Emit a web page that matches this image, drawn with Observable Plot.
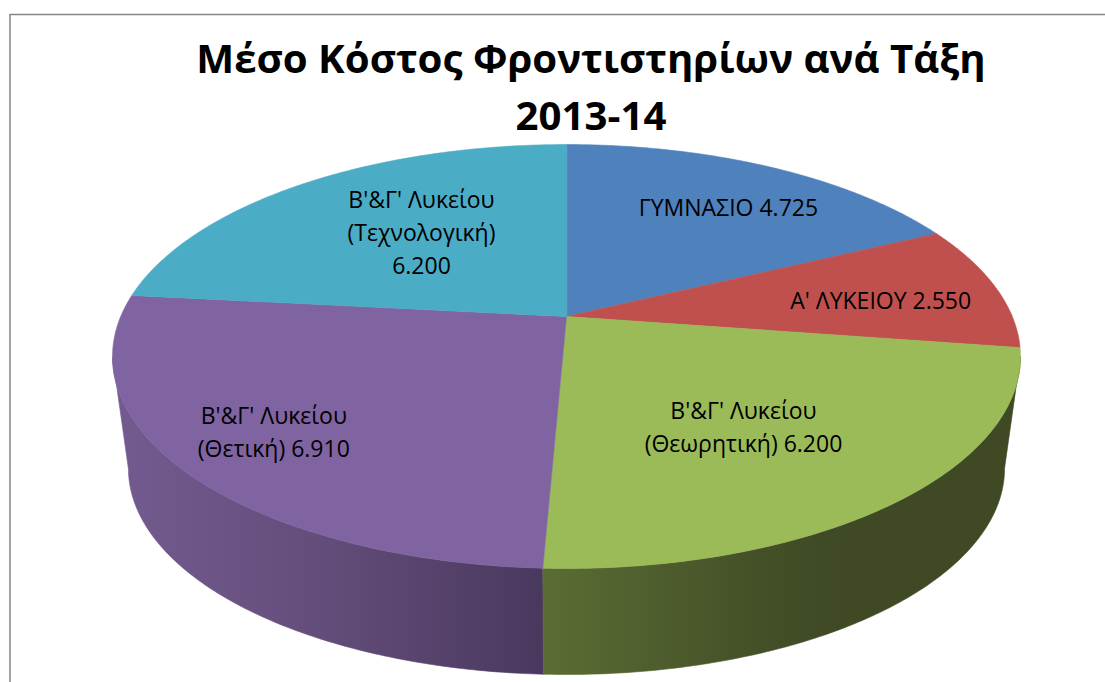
<!DOCTYPE html>
<html><head><meta charset="utf-8">
<script src="https://cdn.jsdelivr.net/npm/d3@7"></script>
<script src="https://cdn.jsdelivr.net/npm/@observablehq/plot@0.6"></script>
<style>html,body{margin:0;padding:0;background:#fff}svg{display:block}</style>
</head><body><div id="chart"></div>
<script>
const title = "Μέσο Κόστος Φροντιστηρίων ανά Τάξη\n2013-14";
const categories = ["ΓΥΜΝΑΣΙΟ ", "Α' ΛΥΚΕΙΟΥ ", "Β'&Γ' Λυκείου\n(Θεωρητική) ", "Β'&Γ' Λυκείου\n(Θετική) ", "Β'&Γ' Λυκείου\n(Τεχνολογική)\n"];
const values = [4725, 2550, 6200, 6910, 6200];
const valueLabels = ["4.725", "2.550", "6.200", "6.910", "6.200"];
const colors = ["#4F81BD", "#C0504D", "#9BBB59", "#8064A2", "#4BACC6"];
const labelRadius = [0.77, 0.728, 0.572, 0.783, 0.522];
const labelShiftY = [8, 4, 10, -2, -12];

// perspective projection of the pie disc
const cx = 566, apexY = 316, A = 445.8, B = 204.4, k = 0.1887;
const top3d = (deg, r = 1) => {
  const t = deg * Math.PI / 180, u = r * Math.sin(t), v = r * Math.cos(t), w = 1 + k * v;
  return {x: cx + A * u / w, y: apexY - B * v / w};
};
const bottom3d = (deg) => {
  const p = top3d(deg);
  return {x: cx + 0.965 * (p.x - cx), y: 468 + 0.972 * (p.y - 356)};
};
const total = d3.sum(values);
let run = 0;
const slices = values.map((v, i) => {
  const start = run / total * 360; run += v;
  return {i, start, end: run / total * 360};
});
const arc = (a, b, f) => d3.range(0, 121).map(j => f(a + (b - a) * j / 120));
const wedge = s => [{x: cx, y: apexY}, ...arc(s.start, s.end, top3d)];
const wall = (s) => {
  const a = Math.max(s.start, 100.9), b = Math.min(s.end, 259);
  return [...arc(a, b, top3d), ...arc(a, b, bottom3d).reverse()];
};
const labels = slices.map(s => {
  const p = top3d((s.start + s.end) / 2, labelRadius[s.i]);
  return {x: p.x, y: p.y + labelShiftY[s.i], text: categories[s.i] + valueLabels[s.i]};
});

const defs = () => {
  const g = d3.create("svg:defs");
  const grad = (id, stops) => {
    const l = g.append("linearGradient").attr("id", id).attr("gradientUnits", "userSpaceOnUse")
      .attr("x1", 112).attr("x2", 1020).attr("y1", 0).attr("y2", 0);
    stops.forEach(([o, c]) => l.append("stop").attr("offset", o).attr("stop-color", c));
  };
  grad("wallPurple", [[0, "#735B90"], [0.2, "#664F7D"], [0.47, "#4A395E"]]);
  grad("wallGreen", [[0.47, "#5B6D34"], [0.72, "#434F27"], [0.8, "#3F4A25"], [1, "#3F4A25"]]);
  return g.node();
};
const poly = (pts, fill) => Plot.line(pts, {x: "x", y: "y", fill, stroke: fill, strokeWidth: 0.6, curve: "linear-closed"});

const chart = Plot.plot({
  width: 1105, height: 682,
  margin: 0,
  x: {domain: [0, 1105], range: [0, 1105], axis: null},
  y: {domain: [0, 682], range: [0, 682], axis: null},
  style: {background: "#fff"},
  marks: [
    defs,
    Plot.ruleY([14], {x1: 9.5, x2: 1105, stroke: "#868686", strokeWidth: 1.5}),
    Plot.ruleX([9.5], {y1: 14, y2: 682, stroke: "#868686", strokeWidth: 1.5}),
    poly(wall(slices[3]), "url(#wallPurple)"),
    poly(wall(slices[2]), "url(#wallGreen)"),
    ...slices.map(s => poly(wedge(s), colors[s.i])),
    Plot.text(labels, {x: "x", y: "y", text: "text", fill: "#000", fontFamily: "Open Sans", fontSize: 23, lineHeight: 1.43, textAnchor: "middle", lineAnchor: "middle"}),
    Plot.text([title], {x: () => 590.5, y: () => 83, text: d => d, fill: "#000", fontFamily: "Open Sans", fontWeight: 700, fontSize: 40.2, lineHeight: 1.42, textAnchor: "middle", lineAnchor: "middle"})
  ]
});
document.getElementById("chart").append(chart);
</script></body></html>
